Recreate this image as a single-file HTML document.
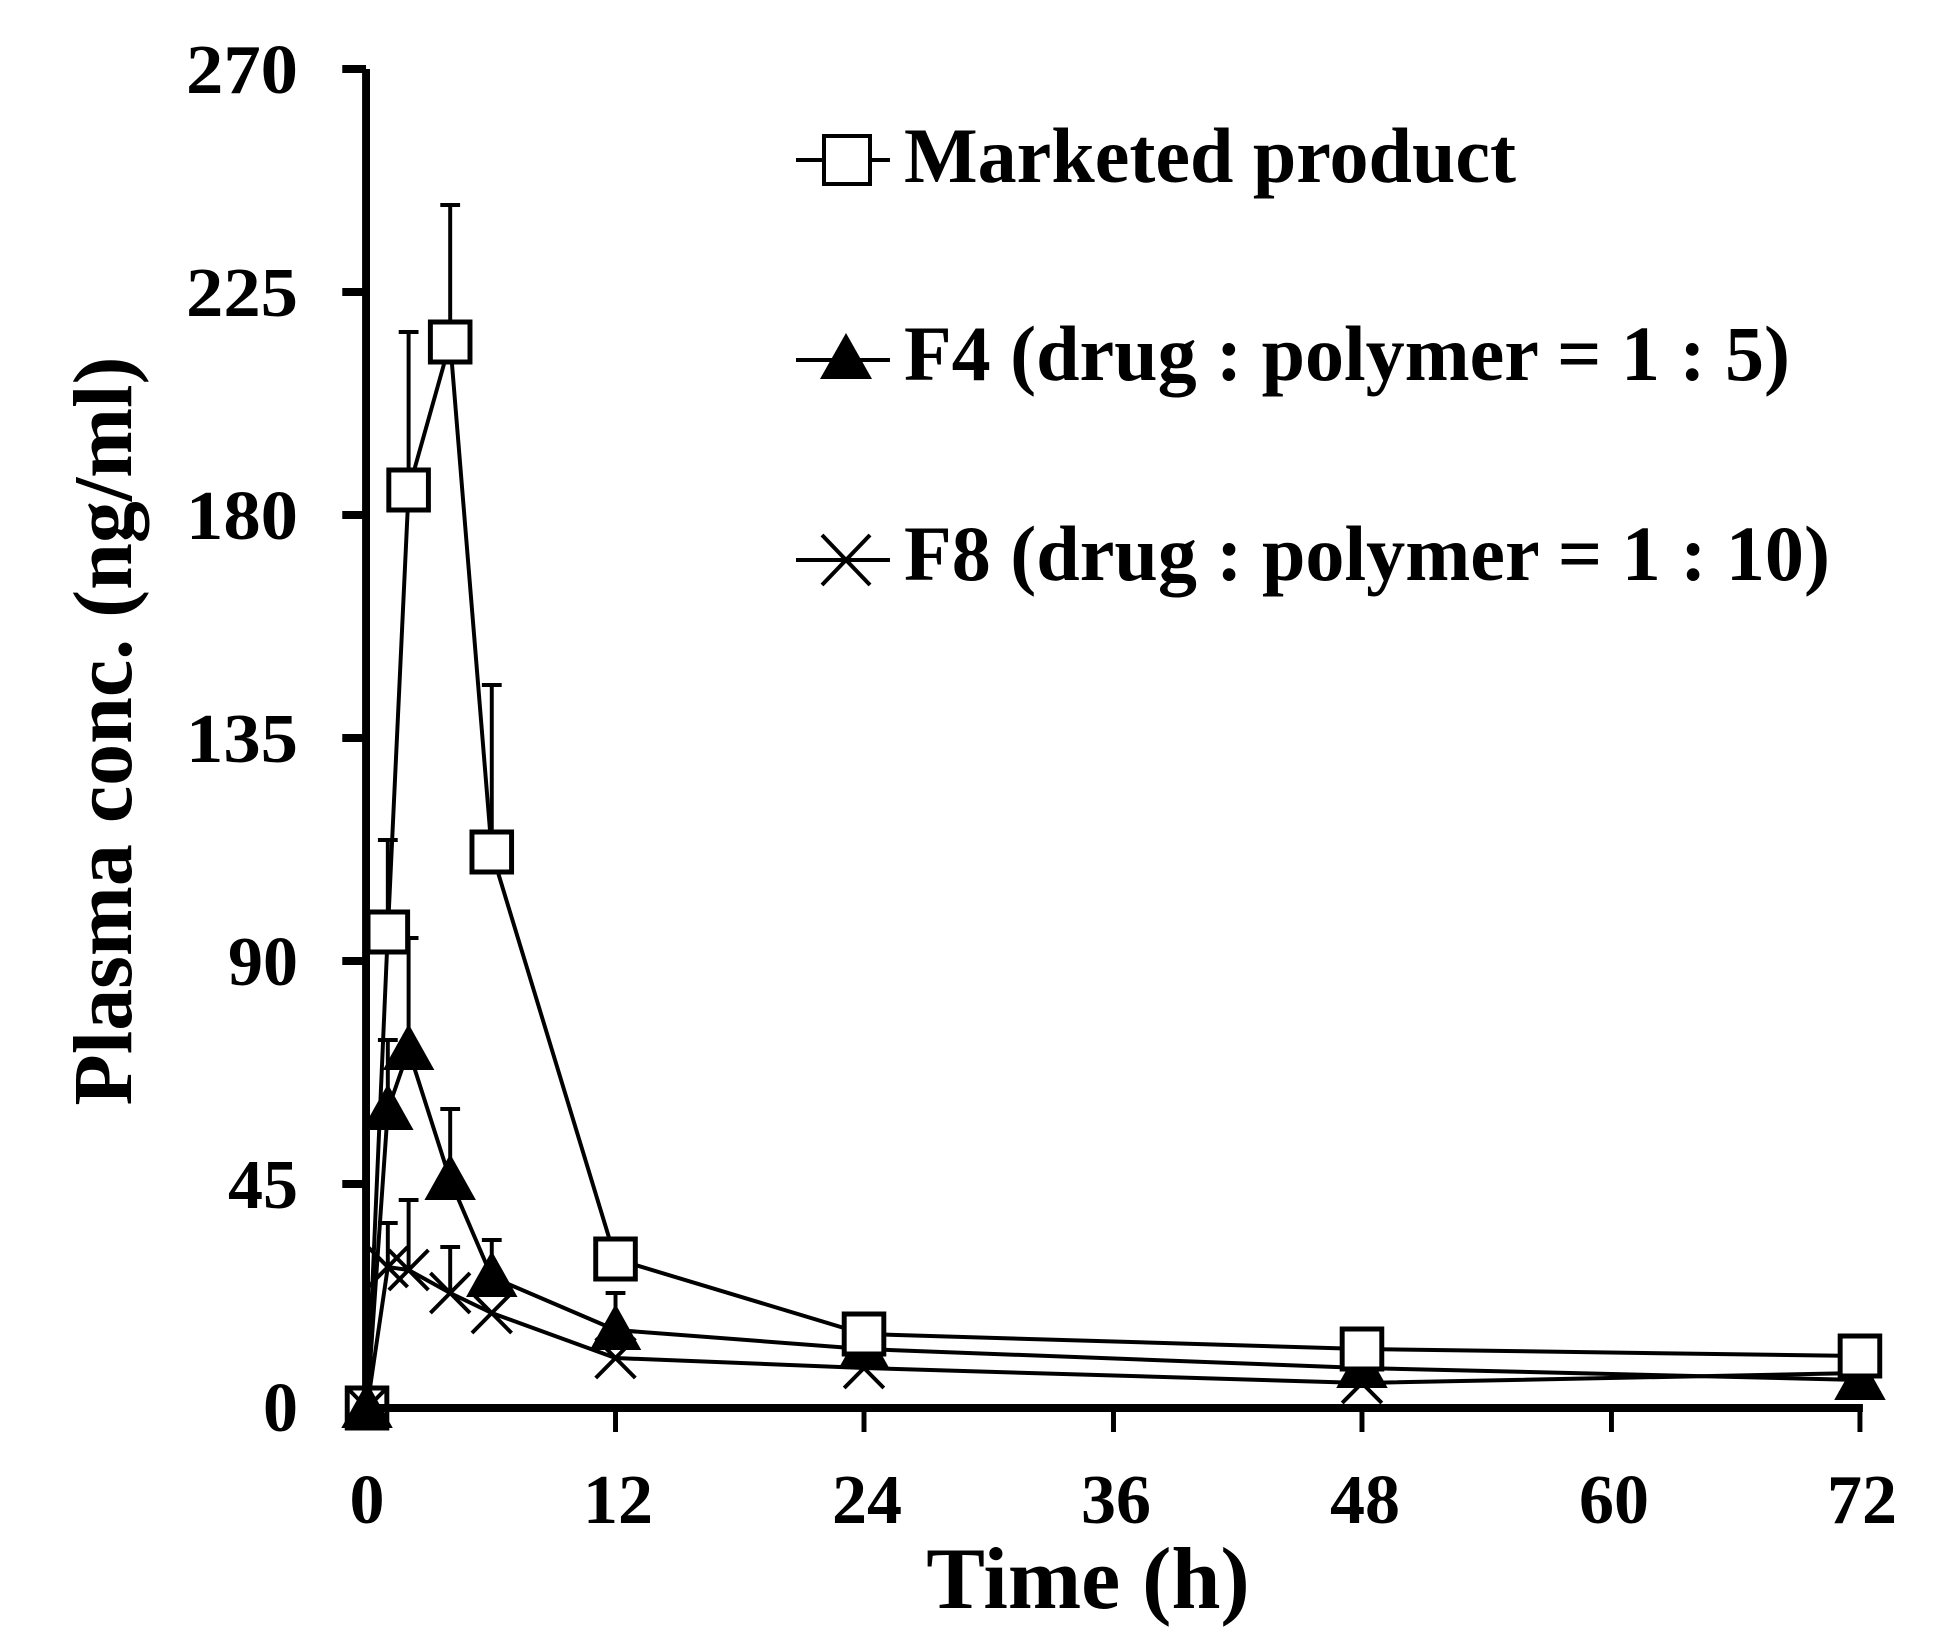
<!DOCTYPE html>
<html><head><style>html,body{margin:0;padding:0;background:#fff}svg{display:block}</style></head>
<body>
<svg width="1941" height="1652" viewBox="0 0 1941 1652" xmlns="http://www.w3.org/2000/svg" font-family="Liberation Serif, serif" font-weight="bold">
<rect width="1941" height="1652" fill="#fff"/>
<g transform="translate(3.7,0) scale(0.99,1)">
<g stroke="#000" stroke-width="8" fill="none">
<line x1="366" y1="69" x2="366" y2="1412"/>
<line x1="362" y1="1408" x2="1878" y2="1408"/>
<line x1="342" y1="69" x2="366" y2="69"/>
<line x1="342" y1="292" x2="366" y2="292"/>
<line x1="342" y1="515" x2="366" y2="515"/>
<line x1="342" y1="738" x2="366" y2="738"/>
<line x1="342" y1="961" x2="366" y2="961"/>
<line x1="342" y1="1184" x2="366" y2="1184"/>
</g>
<g stroke="#000" stroke-width="5">
<line x1="618" y1="1408" x2="618" y2="1432"/>
<line x1="869" y1="1408" x2="869" y2="1432"/>
<line x1="1121" y1="1408" x2="1121" y2="1432"/>
<line x1="1372" y1="1408" x2="1372" y2="1432"/>
<line x1="1624" y1="1408" x2="1624" y2="1432"/>
<line x1="1875" y1="1408" x2="1875" y2="1432"/>
</g>
<g stroke="#000" stroke-width="4">
<line x1="388" y1="932" x2="388" y2="840"/><line x1="378" y1="840" x2="398" y2="840"/>
<line x1="409" y1="490" x2="409" y2="332"/><line x1="399" y1="332" x2="419" y2="332"/>
<line x1="451" y1="342" x2="451" y2="205"/><line x1="441" y1="205" x2="461" y2="205"/>
<line x1="493" y1="852" x2="493" y2="685"/><line x1="483" y1="685" x2="503" y2="685"/>
<line x1="388" y1="1110" x2="388" y2="1040"/><line x1="378" y1="1040" x2="398" y2="1040"/>
<line x1="409" y1="1050" x2="409" y2="938"/><line x1="399" y1="938" x2="419" y2="938"/>
<line x1="451" y1="1180" x2="451" y2="1109"/><line x1="441" y1="1109" x2="461" y2="1109"/>
<line x1="493" y1="1277" x2="493" y2="1240"/><line x1="483" y1="1240" x2="503" y2="1240"/>
<line x1="618" y1="1330" x2="618" y2="1293"/><line x1="608" y1="1293" x2="628" y2="1293"/>
<line x1="388" y1="1267" x2="388" y2="1223"/><line x1="378" y1="1223" x2="398" y2="1223"/>
<line x1="409" y1="1270" x2="409" y2="1200"/><line x1="399" y1="1200" x2="419" y2="1200"/>
<line x1="451" y1="1293" x2="451" y2="1247"/><line x1="441" y1="1247" x2="461" y2="1247"/>
</g>
<g stroke="#000" stroke-width="4" fill="none">
<polyline points="367,1408 388,932 409,490 451,342 493,852 618,1259 869,1334 1372,1349 1875,1356"/>
<polyline points="367,1408 388,1110 409,1050 451,1180 493,1277 618,1330 869,1349 1372,1368 1875,1380"/>
<polyline points="367,1408 388,1267 409,1270 451,1293 493,1313 618,1358 869,1368 1372,1383 1875,1373"/>
</g>
<g stroke="#000" stroke-width="4">
<path d="M367,1408m-20,-20l40,40m0,-40l-40,40"/>
<path d="M388,1267m-20,-20l40,40m0,-40l-40,40"/>
<path d="M409,1270m-20,-20l40,40m0,-40l-40,40"/>
<path d="M451,1293m-20,-20l40,40m0,-40l-40,40"/>
<path d="M493,1313m-20,-20l40,40m0,-40l-40,40"/>
<path d="M618,1358m-20,-20l40,40m0,-40l-40,40"/>
<path d="M869,1368m-20,-20l40,40m0,-40l-40,40"/>
<path d="M1372,1383m-20,-20l40,40m0,-40l-40,40"/>
<path d="M1875,1373m-20,-20l40,40m0,-40l-40,40"/>
</g>
<g fill="#000">
<path d="M367,1382l26,46h-52z"/>
<path d="M388,1084l26,46h-52z"/>
<path d="M409,1024l26,46h-52z"/>
<path d="M451,1154l26,46h-52z"/>
<path d="M493,1251l26,46h-52z"/>
<path d="M618,1304l26,46h-52z"/>
<path d="M869,1323l26,46h-52z"/>
<path d="M1372,1342l26,46h-52z"/>
<path d="M1875,1354l26,46h-52z"/>
</g>
<g fill="#fff" stroke="#000" stroke-width="5">
<rect x="347" y="1388" width="40" height="40" fill="none"/>
<rect x="368" y="912" width="40" height="40"/>
<rect x="389" y="470" width="40" height="40"/>
<rect x="431" y="322" width="40" height="40"/>
<rect x="473" y="832" width="40" height="40"/>
<rect x="598" y="1239" width="40" height="40"/>
<rect x="849" y="1314" width="40" height="40"/>
<rect x="1352" y="1329" width="40" height="40"/>
<rect x="1855" y="1336" width="40" height="40"/>
</g>
</g>
<g font-size="70" text-anchor="end">
<text x="298" y="93" textLength="112" lengthAdjust="spacingAndGlyphs">270</text>
<text x="298" y="316" textLength="112" lengthAdjust="spacingAndGlyphs">225</text>
<text x="298" y="539" textLength="112" lengthAdjust="spacingAndGlyphs">180</text>
<text x="298" y="762" textLength="112" lengthAdjust="spacingAndGlyphs">135</text>
<text x="298" y="985">90</text>
<text x="298" y="1208">45</text>
<text x="298" y="1431">0</text>
</g>
<g font-size="70" text-anchor="middle">
<text x="367" y="1523">0</text>
<text x="618" y="1523">12</text>
<text x="867" y="1523">24</text>
<text x="1116" y="1523">36</text>
<text x="1365" y="1523">48</text>
<text x="1614" y="1523">60</text>
<text x="1862" y="1523">72</text>
</g>
<text x="1088" y="1608" font-size="88" text-anchor="middle">Time (h)</text>
<text transform="translate(131,731) rotate(-90)" font-size="84" text-anchor="middle">Plasma conc. (ng/ml)</text>
<g stroke="#000" stroke-width="4">
<line x1="796" y1="160" x2="890" y2="160"/>
<line x1="796" y1="360" x2="890" y2="360"/>
<line x1="796" y1="560" x2="890" y2="560"/>
<path d="M822,535l48,50m0,-50l-48,50"/>
</g>
<rect x="824" y="136" width="46" height="48" fill="#fff" stroke="#000" stroke-width="4"/>
<path d="M846,333l26,46h-52z" fill="#000"/>
<g font-size="78">
<text x="904" y="182" textLength="612" lengthAdjust="spacingAndGlyphs">Marketed product</text>
<text x="904" y="380" textLength="886" lengthAdjust="spacingAndGlyphs">F4 (drug : polymer = 1 : 5)</text>
<text x="904" y="580" textLength="926" lengthAdjust="spacingAndGlyphs">F8 (drug : polymer = 1 : 10)</text>
</g>
</svg>
</body></html>
